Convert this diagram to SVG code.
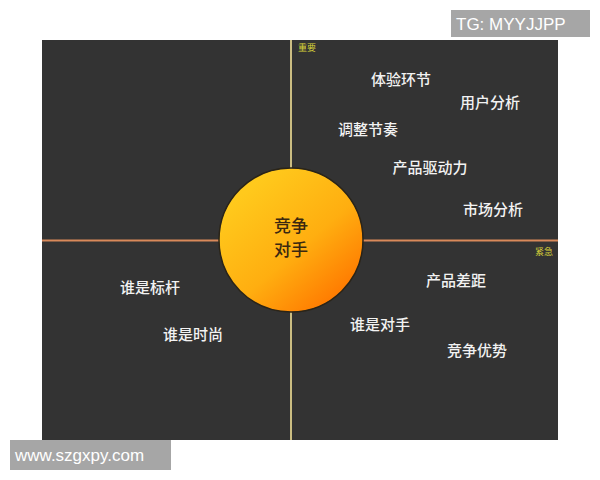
<svg xmlns="http://www.w3.org/2000/svg" width="600" height="480" viewBox="0 0 600 480">
<defs>
<style>
.lbl{font-family:"Noto Sans CJK SC","Noto Sans",sans-serif;font-size:15px;font-weight:500;fill:#f2f2f2;text-anchor:middle}
.ax{font-family:"Noto Sans CJK SC",sans-serif;font-size:9px;fill:#d9d23a}
.wm{font-family:"Liberation Sans",Arial,sans-serif;font-size:17px;fill:#ffffff}
.core{font-family:"Noto Sans CJK SC",sans-serif;font-size:17px;font-weight:500;fill:#3a2810;text-anchor:middle}
</style>
<linearGradient id="sun" x1="0.2" y1="0.15" x2="0.85" y2="0.9">
<stop offset="0" stop-color="#ffc91c"/>
<stop offset="0.55" stop-color="#ffae10"/>
<stop offset="1" stop-color="#ff7800"/>
</linearGradient>
</defs>
<rect x="0" y="0" width="600" height="480" fill="#ffffff"/>
<rect x="42" y="40" width="516" height="400" fill="#333333"/>
<g id="connectors">
<line x1="42" y1="240.5" x2="558" y2="240.5" stroke="#d9895a" stroke-width="2"/>
<line x1="291" y1="40" x2="291" y2="440" stroke="#cbbd82" stroke-width="2"/>
</g>
<g id="axis-labels">
<text class="ax" x="298" y="51">重要</text>
<text class="ax" x="535" y="255">紧急</text>
</g>
<g id="core">
<circle cx="291" cy="240" r="72" fill="url(#sun)" stroke="#2a2418" stroke-width="1.5"/>
<text class="core" x="291" y="232">竞争</text>
<text class="core" x="291" y="256">对手</text>
</g>
<g id="n1"><text class="lbl" x="401" y="85">体验环节</text></g>
<g id="n2"><text class="lbl" x="490" y="108">用户分析</text></g>
<g id="n3"><text class="lbl" x="368" y="135">调整节奏</text></g>
<g id="n4"><text class="lbl" x="430" y="173">产品驱动力</text></g>
<g id="n5"><text class="lbl" x="493" y="215">市场分析</text></g>
<g id="n6"><text class="lbl" x="456" y="286">产品差距</text></g>
<g id="n7"><text class="lbl" x="150" y="293">谁是标杆</text></g>
<g id="n8"><text class="lbl" x="380" y="330">谁是对手</text></g>
<g id="n9"><text class="lbl" x="193" y="340">谁是时尚</text></g>
<g id="n10"><text class="lbl" x="477" y="356">竞争优势</text></g>
<g id="watermark-top">
<rect x="451" y="10" width="139" height="27" fill="#a6a6a6"/>
<text class="wm" x="456" y="30">TG: MYYJJPP</text>
</g>
<g id="watermark-bottom">
<rect x="10" y="440" width="161" height="30" fill="#a6a6a6"/>
<text class="wm" x="15" y="461">www.szgxpy.com</text>
</g>
</svg>
